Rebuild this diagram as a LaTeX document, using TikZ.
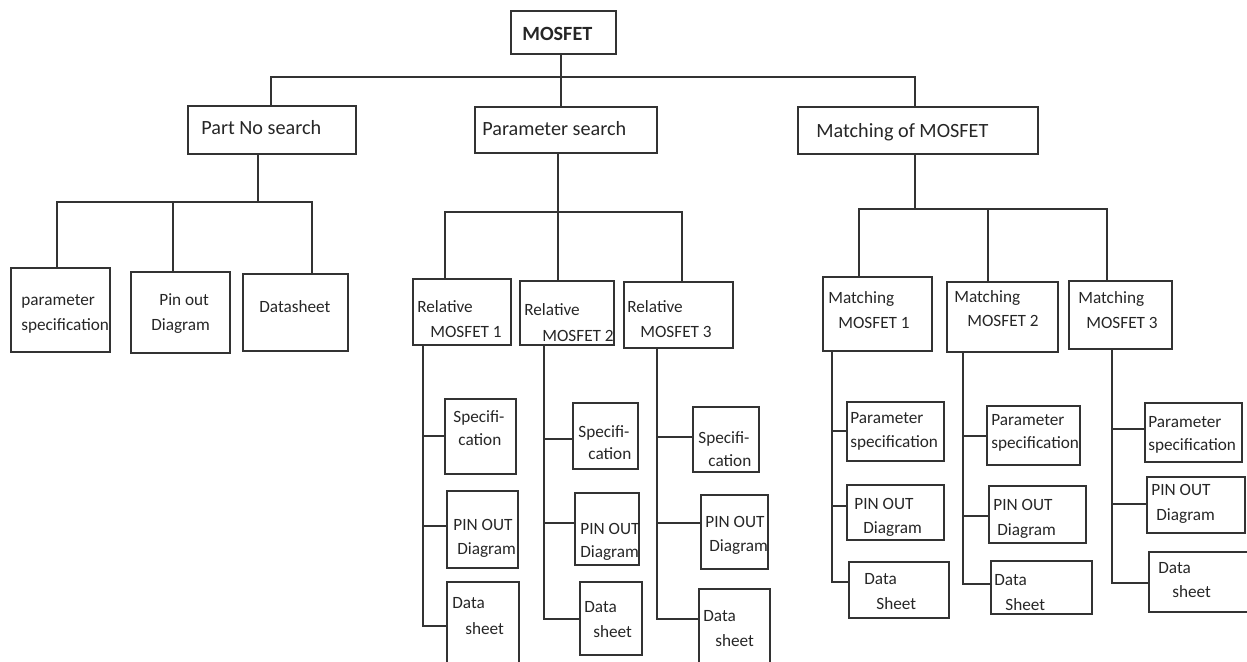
\documentclass[tikz,border=0pt]{standalone}
\usepackage{fontspec}
\setmainfont{Carlito}
\definecolor{linec}{HTML}{333333}
\definecolor{txtc}{HTML}{262626}
\tikzset{
  box/.style={draw=linec,line width=0.75pt,inner sep=0pt,outer sep=0pt},
  conn/.style={draw=linec,line width=0.75pt},
  sm/.style={font=\fontsize{9.8}{12}\selectfont,text=txtc,inner sep=0pt,anchor=base west},
  lg/.style={font=\fontsize{11.5}{14}\selectfont,text=txtc,inner sep=0pt,anchor=base west},
}
\newcommand\mybx[5]{\node[box,minimum width={(#4-#2)*0.02cm},minimum height={(#5-#3)*0.02cm}] (#1) at ({(#2+#4)/2},{(#3+#5)/2}) {};}
\newcommand\mytx[5]{\node[#1] (#2) at (#3,#4) {#5};}
\begin{document}
\begin{tikzpicture}[x=0.02cm,y=-0.02cm]
\useasboundingbox (0,0) rectangle (1247,662);
\clip (0,0) rectangle (1247,662);
% ---- boxes ----
\mybx{mos}{511}{11}{616}{54}
\mybx{pns}{188}{106}{356}{154}
\mybx{ps}{475}{107}{657}{153}
\mybx{mat}{798}{107}{1038}{154}
\mybx{pa1}{11}{268}{110}{352}
\mybx{pa2}{131}{272}{230}{353}
\mybx{pa3}{243}{274}{348}{351}
\mybx{r1}{413}{279}{511}{345}
\mybx{r2}{520}{281}{614}{345}
\mybx{r3}{624}{282}{733}{348}
\mybx{m1}{823}{277}{932}{351}
\mybx{m2}{947}{282}{1058}{352}
\mybx{m3}{1069}{281}{1172}{349}
\mybx{r1a}{445}{399}{516}{474}
\mybx{r1b}{447}{491}{518}{568}
\mybx{r1c}{447}{582}{519}{672}
\mybx{r2a}{573}{403}{638}{469}
\mybx{r2b}{575}{493}{639}{565}
\mybx{r2c}{580}{582}{642}{655}
\mybx{r3a}{693}{407}{759}{472}
\mybx{r3b}{701}{495}{768}{569}
\mybx{r3c}{699}{589}{770}{672}
\mybx{m1a}{847}{402}{944}{461}
\mybx{m1b}{847}{485}{944}{540}
\mybx{m1c}{849}{562}{949}{618}
\mybx{m2a}{987}{406}{1080}{465}
\mybx{m2b}{989}{486}{1086}{543}
\mybx{m2c}{991}{561}{1092}{614}
\mybx{m3a}{1145}{403}{1242}{462}
\mybx{m3b}{1147}{477}{1245}{533}
\mybx{m3c}{1149}{552}{1258}{612}
% ---- texts ----
\node[lg,font=\fontsize{11.5}{14}\selectfont\bfseries] (most) at (522,41) {MOSFET};
\mytx{lg}{pnst}{201}{135}{Part No search}
\mytx{lg}{pst}{482}{136}{Parameter search}
\mytx{lg}{matt}{816}{138}{Matching of MOSFET}
\mytx{sm}{pa1t1}{21}{305}{parameter}
\mytx{sm}{pa1t2}{21}{330}{specification}
\mytx{sm}{pa2t1}{159}{305}{Pin out}
\mytx{sm}{pa2t2}{151}{330}{Diagram}
\mytx{sm}{pa3t1}{259}{312}{Datasheet}
\mytx{sm}{r1t1}{417}{312}{Relative}
\mytx{sm}{r1t2}{430}{337}{MOSFET 1}
\mytx{sm}{r2t1}{524}{315}{Relative}
\mytx{sm}{r2t2}{542}{341}{MOSFET 2}
\mytx{sm}{r3t1}{627}{312}{Relative}
\mytx{sm}{r3t2}{640}{337}{MOSFET 3}
\mytx{sm}{m1t1}{828}{303}{Matching}
\mytx{sm}{m1t2}{838}{328}{MOSFET 1}
\mytx{sm}{m2t1}{954}{302}{Matching}
\mytx{sm}{m2t2}{967}{326}{MOSFET 2}
\mytx{sm}{m3t1}{1078}{303}{Matching}
\mytx{sm}{m3t2}{1086}{328}{MOSFET 3}
\mytx{sm}{r1at1}{453}{422}{Specifi-}
\mytx{sm}{r1at2}{458}{445}{cation}
\mytx{sm}{r1bt1}{453}{530}{PIN OUT}
\mytx{sm}{r1bt2}{457}{554}{Diagram}
\mytx{sm}{r1ct1}{452}{608}{Data}
\mytx{sm}{r1ct2}{465}{634}{sheet}
\mytx{sm}{r2at1}{578}{437}{Specifi-}
\mytx{sm}{r2at2}{588}{459}{cation}
\mytx{sm}{r2bt1}{580}{534}{PIN OUT}
\mytx{sm}{r2bt2}{580}{557}{Diagram}
\mytx{sm}{r2ct1}{584}{612}{Data}
\mytx{sm}{r2ct2}{593}{637}{sheet}
\mytx{sm}{r3at1}{698}{443}{Specifi-}
\mytx{sm}{r3at2}{708}{466}{cation}
\mytx{sm}{r3bt1}{705}{527}{PIN OUT}
\mytx{sm}{r3bt2}{709}{551}{Diagram}
\mytx{sm}{r3ct1}{703}{621}{Data}
\mytx{sm}{r3ct2}{715}{646}{sheet}
\mytx{sm}{m1at1}{850}{423}{Parameter}
\mytx{sm}{m1at2}{850}{447}{specification}
\mytx{sm}{m1bt1}{854}{509}{PIN OUT}
\mytx{sm}{m1bt2}{863}{533}{Diagram}
\mytx{sm}{m1ct1}{864}{584}{Data}
\mytx{sm}{m1ct2}{876}{609}{Sheet}
\mytx{sm}{m2at1}{991}{425}{Parameter}
\mytx{sm}{m2at2}{991}{448}{specification}
\mytx{sm}{m2bt1}{993}{510}{PIN OUT}
\mytx{sm}{m2bt2}{997}{535}{Diagram}
\mytx{sm}{m2ct1}{994}{585}{Data}
\mytx{sm}{m2ct2}{1005}{610}{Sheet}
\mytx{sm}{m3at1}{1148}{427}{Parameter}
\mytx{sm}{m3at2}{1148}{450}{specification}
\mytx{sm}{m3bt1}{1151}{495}{PIN OUT}
\mytx{sm}{m3bt2}{1156}{520}{Diagram}
\mytx{sm}{m3ct1}{1158}{573}{Data}
\mytx{sm}{m3ct2}{1172}{597}{sheet}
% ---- level 1 connectors ----
\coordinate (b0l) at (271,77);
\coordinate (b0r) at (915,77);
\draw[conn] (mos.south -| 561,0) -- (ps.north -| 561,0);
\draw[conn] (pns.north -| b0l) -- (b0l) -- (b0r) -- (mat.north -| b0r);
% ---- part no search ----
\coordinate (pj) at (258,202);
\coordinate (pk1) at (57,202);
\coordinate (pk2) at (173,202);
\coordinate (pk3) at (312,202);
\draw[conn] (pns.south -| pj) -- (pj);
\draw[conn] (pa1.north -| pk1) -- (pk1) -- (pk3) -- (pa3.north -| pk3);
\draw[conn] (pk2) -- (pa2.north -| pk2);
% ---- parameter search ----
\coordinate (sj) at (558,212);
\coordinate (sk1) at (445,212);
\coordinate (sk3) at (682,212);
\draw[conn] (ps.south -| sj) -- (sj);
\draw[conn] (r1.north -| sk1) -- (sk1) -- (sk3) -- (r3.north -| sk3);
\draw[conn] (sj) -- (r2.north -| sj);
% ---- matching ----
\coordinate (mj) at (915,209);
\coordinate (mk1) at (859,209);
\coordinate (mk2) at (988,209);
\coordinate (mk3) at (1107,209);
\draw[conn] (mat.south -| mj) -- (mj);
\draw[conn] (m1.north -| mk1) -- (mk1) -- (mk3) -- (m3.north -| mk3);
\draw[conn] (mk2) -- (m2.north -| mk2);
% ---- trunks ----
\coordinate (tr1) at (423,626);
\coordinate (tr2) at (544,619);
\coordinate (tr3) at (657,619);
\coordinate (tm1) at (832,582);
\coordinate (tm2) at (963,584);
\coordinate (tm3) at (1112,583);
\draw[conn] (r1.south -| tr1) -- (tr1) -- (r1c.west |- tr1);
\draw[conn] (tr1 |- 0,436) -- (r1a.west |- 0,436);
\draw[conn] (tr1 |- 0,526) -- (r1b.west |- 0,526);
\draw[conn] (r2.south -| tr2) -- (tr2) -- (r2c.west |- tr2);
\draw[conn] (tr2 |- 0,439) -- (r2a.west |- 0,439);
\draw[conn] (tr2 |- 0,523) -- (r2b.west |- 0,523);
\draw[conn] (r3.south -| tr3) -- (tr3) -- (r3c.west |- tr3);
\draw[conn] (tr3 |- 0,437) -- (r3a.west |- 0,437);
\draw[conn] (tr3 |- 0,523) -- (r3b.west |- 0,523);
\draw[conn] (m1.south -| tm1) -- (tm1) -- (m1c.west |- tm1);
\draw[conn] (tm1 |- 0,431) -- (m1a.west |- 0,431);
\draw[conn] (tm1 |- 0,506) -- (m1b.west |- 0,506);
\draw[conn] (m2.south -| tm2) -- (tm2) -- (m2c.west |- tm2);
\draw[conn] (tm2 |- 0,436) -- (m2a.west |- 0,436);
\draw[conn] (tm2 |- 0,516) -- (m2b.west |- 0,516);
\draw[conn] (m3.south -| tm3) -- (tm3) -- (m3c.west |- tm3);
\draw[conn] (tm3 |- 0,429) -- (m3a.west |- 0,429);
\draw[conn] (tm3 |- 0,504) -- (m3b.west |- 0,504);
\end{tikzpicture}
\end{document}
